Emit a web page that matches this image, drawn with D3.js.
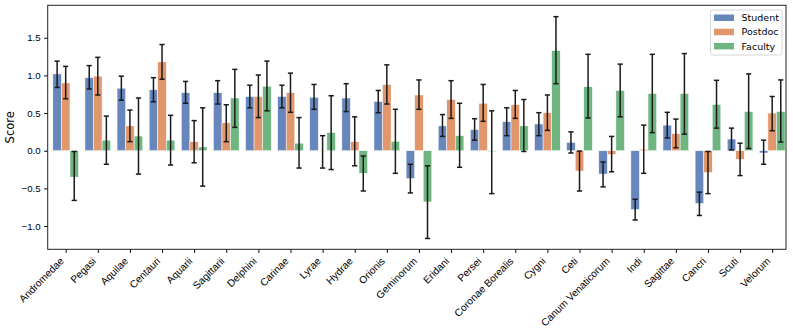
<!DOCTYPE html>
<html>
<head>
<meta charset="utf-8">
<script src="https://cdn.jsdelivr.net/npm/d3@7"></script>
<style>
  body { margin: 0; background: #fff; }
  svg { font-family: "DejaVu Sans", sans-serif; }
</style>
</head>
<body>
<svg width="793" height="336"></svg>
<script>
const categories = ["Andromedae", "Pegasi", "Aquilae", "Centauri", "Aquarii", "Sagittarii",
    "Delphini", "Carinae", "Lyrae", "Hydrae", "Orionis", "Geminorum", "Eridani", "Persei",
    "Coronae Borealis", "Cygni", "Ceti", "Canum Venaticorum", "Indi", "Sagittae", "Cancri",
    "Scuti", "Velorum"];

const groups = ["Student", "Postdoc", "Faculty"];

const studentMean = [1.02, 0.97, 0.83, 0.81, 0.77, 0.77, 0.72, 0.72, 0.71, 0.70, 0.655, -0.37, 0.33, 0.28, 0.385, 0.355, 0.11, -0.31, -0.78, 0.34, -0.70, 0.155, -0.03];
const studentLo = [0.84, 0.82, 0.67, 0.65, 0.63, 0.62, 0.57, 0.57, 0.55, 0.52, 0.505, -0.56, 0.19, 0.14, 0.20, 0.20, -0.03, -0.48, -0.92, 0.17, -0.86, 0.01, -0.18];
const studentHi = [1.19, 1.13, 0.99, 0.97, 0.92, 0.93, 0.87, 0.87, 0.88, 0.89, 0.80, -0.18, 0.48, 0.425, 0.57, 0.505, 0.25, -0.15, -0.645, 0.51, -0.55, 0.30, 0.14];

const postdocMean = [0.90, 0.99, 0.33, 1.18, 0.12, 0.37, 0.72, 0.77, -0.005, 0.12, 0.88, 0.74, 0.68, 0.63, 0.61, 0.505, -0.27, -0.05, 0.02, 0.225, -0.29, -0.115, 0.50];
const postdocLo = [0.69, 0.74, 0.12, 0.95, -0.16, 0.12, 0.44, 0.51, -0.23, -0.20, 0.62, 0.55, 0.43, 0.39, 0.43, 0.27, -0.535, -0.28, -0.30, 0.04, -0.57, -0.33, 0.265];
const postdocHi = [1.12, 1.24, 0.54, 1.41, 0.40, 0.61, 1.005, 1.03, 0.20, 0.45, 1.14, 0.94, 0.93, 0.88, 0.80, 0.74, -0.005, 0.19, 0.34, 0.42, -0.01, 0.10, 0.72];

const facultyMean = [-0.35, 0.14, 0.195, 0.14, 0.05, 0.70, 0.855, 0.10, 0.24, -0.30, 0.125, -0.68, 0.20, -0.01, 0.33, 1.33, 0.85, 0.80, 0.76, 0.76, 0.615, 0.52, 0.52];
const facultyLo = [-0.66, -0.18, -0.31, -0.19, -0.47, 0.31, 0.53, -0.23, -0.25, -0.535, -0.30, -1.165, -0.22, -0.57, -0.01, 0.89, 0.435, 0.45, 0.24, 0.22, 0.30, 0.03, 0.115];
const facultyHi = [-0.01, 0.46, 0.70, 0.47, 0.57, 1.08, 1.19, 0.44, 0.73, -0.07, 0.55, -0.20, 0.63, 0.53, 0.68, 1.78, 1.28, 1.15, 1.28, 1.29, 0.935, 1.02, 0.94];

const yTicks = [-1.0, -0.5, 0.0, 0.5, 1.0, 1.5];

const series = [
    { name: "Student", mean: studentMean, lo: studentLo, hi: studentHi },
    { name: "Postdoc", mean: postdocMean, lo: postdocLo, hi: postdocHi },
    { name: "Faculty", mean: facultyMean, lo: facultyLo, hi: facultyHi }
];

const svg = d3.select("svg");

const plotL = 47.7, plotR = 786, plotT = 5.3, plotB = 249.3;

const x = d3.scaleLinear()
    .domain([-0.56, categories.length - 1 + 0.43])
    .range([plotL, plotR]);

const y = d3.scaleLinear()
    .domain([-1.309, 1.931])
    .range([plotB, plotT]);

const color = d3.scaleOrdinal()
    .domain(groups)
    .range(["#4c72b0", "#dd8452", "#55a868"]);

const barW = 0.8 / 3;

// flatten into one row per bar
const bars = [];
series.forEach((s, si) => {
    categories.forEach((c, i) => {
        bars.push({
            group: s.name,
            pos: i + (si - 1) * barW,
            mean: s.mean[i],
            lo: s.lo[i],
            hi: s.hi[i]
        });
    });
});

svg.append("g")
    .selectAll("rect")
    .data(bars)
    .enter()
    .append("rect")
    .attr("x", d => x(d.pos - barW / 2))
    .attr("width", d => x(barW) - x(0))
    .attr("y", d => y(Math.max(0, d.mean)))
    .attr("height", d => Math.abs(y(d.mean) - y(0)))
    .attr("fill", d => color(d.group))
    .attr("fill-opacity", 0.85)
    .attr("stroke", "#fff")
    .attr("stroke-width", 0.5);

// error bars
const err = svg.append("g")
    .attr("stroke", "#1a1a1a")
    .attr("stroke-width", 1.5);

const cap = 2.6;

err.selectAll(".ev")
    .data(bars)
    .enter()
    .append("line")
    .attr("class", "ev")
    .attr("x1", d => x(d.pos))
    .attr("x2", d => x(d.pos))
    .attr("y1", d => y(d.lo))
    .attr("y2", d => y(d.hi));

err.selectAll(".cl")
    .data(bars)
    .enter()
    .append("line")
    .attr("class", "cl")
    .attr("x1", d => x(d.pos) - cap)
    .attr("x2", d => x(d.pos) + cap)
    .attr("y1", d => y(d.lo))
    .attr("y2", d => y(d.lo));

err.selectAll(".ch")
    .data(bars)
    .enter()
    .append("line")
    .attr("class", "ch")
    .attr("x1", d => x(d.pos) - cap)
    .attr("x2", d => x(d.pos) + cap)
    .attr("y1", d => y(d.hi))
    .attr("y2", d => y(d.hi));

// axes
const yAxis = d3.axisLeft(y)
    .tickValues(yTicks)
    .tickFormat(d3.format(".1f"))
    .tickSize(3.5)
    .tickPadding(3.5);

svg.append("g")
    .attr("transform", `translate(${plotL}, 0)`)
    .call(yAxis)
    .call(g => g.select(".domain").remove())
    .call(g => g.selectAll("text").attr("font-size", "9.7px").attr("fill", "#000"));

const xAxis = d3.axisBottom(x)
    .tickValues(d3.range(categories.length))
    .tickFormat(i => categories[i])
    .tickSize(3.5);

svg.append("g")
    .attr("transform", `translate(0, ${plotB})`)
    .call(xAxis)
    .call(g => g.select(".domain").remove())
    .call(g => g.selectAll("text")
        .attr("font-size", "10.2px")
        .attr("fill", "#000")
        .attr("text-anchor", "end")
        .attr("y", 0)
        .attr("dy", 0)
        .attr("transform", "translate(-1.6, 12.5) rotate(-45)"));

// frame
svg.append("rect")
    .attr("x", plotL)
    .attr("y", plotT)
    .attr("width", plotR - plotL)
    .attr("height", plotB - plotT)
    .attr("fill", "none")
    .attr("stroke", "#222")
    .attr("stroke-width", 1);

svg.append("text")
    .attr("transform", `translate(14, ${(plotT + plotB) / 2}) rotate(-90)`)
    .attr("text-anchor", "middle")
    .attr("font-size", "11.5px")
    .text("Score");

// legend
const lg = svg.append("g")
    .attr("transform", "translate(710.5, 10)");

lg.append("rect")
    .attr("width", 71.5)
    .attr("height", 45)
    .attr("rx", 2.5)
    .attr("fill", "#fff")
    .attr("fill-opacity", 0.8)
    .attr("stroke", "#ccc")
    .attr("stroke-width", 0.8);

const items = lg.selectAll(".item")
    .data(groups)
    .enter()
    .append("g")
    .attr("class", "item")
    .attr("transform", (d, i) => `translate(3.5, ${7.7 + i * 14.2})`);

items.append("rect")
    .attr("y", -3.2)
    .attr("width", 20)
    .attr("height", 6.5)
    .attr("fill", d => color(d))
    .attr("fill-opacity", 0.85);

items.append("text")
    .attr("x", 27.5)
    .attr("y", 3.4)
    .attr("font-size", "9.5px")
    .text(d => d);
</script>
</body>
</html>
